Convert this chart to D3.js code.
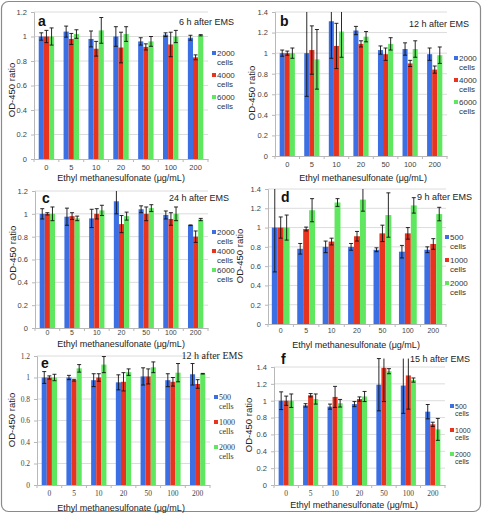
<!DOCTYPE html>
<html><head><meta charset="utf-8">
<script src="https://cdn.jsdelivr.net/npm/d3@7"></script>
<style>body{margin:0;background:#fff}svg{display:block}</style>
</head><body>
<svg id="c" width="483" height="513"></svg>
<script>
const categories = ["0","5","10","20","50","100","200"];
const seriesLabelsA = ["2000","4000","6000"];
const seriesLabelsB = ["500","1000","2000"];
const colors = ["#3b6fe3","#e8331f","#5fe85f"];

// panel a: 6 h after EMS
const a2000 = [1.0, 1.04, 0.98, 1.0, 0.96, 1.015, 0.99];
const a2000Err = [0.03, 0.045, 0.065, 0.08, 0.03, 0.015, 0.02];
const a4000 = [1.0, 0.98, 0.90, 0.91, 0.915, 0.935, 0.83];
const a4000Err = [0.05, 0.045, 0.06, 0.125, 0.025, 0.10, 0.02];
const a6000 = [1.0, 1.02, 1.05, 1.02, 0.96, 1.0, 1.01];
const a6000Err = [0.07, 0.035, 0.105, 0.06, 0.04, 0.05, 0.005];
// panel b: 12 h after EMS
const b2000 = [1.0, 1.0, 1.31, 1.22, 1.03, 1.04, 0.99];
const b2000Err = [0.03, 0.42, 0.36, 0.04, 0.04, 0.06, 0.06];
const b4000 = [1.0, 1.03, 1.07, 1.09, 0.99, 0.90, 0.84];
const b4000Err = [0.02, 0.235, 0.22, 0.03, 0.06, 0.03, 0.035];
const b6000 = [1.0, 0.94, 1.21, 1.16, 1.09, 1.04, 0.98];
const b6000Err = [0.05, 0.29, 0.25, 0.05, 0.06, 0.08, 0.08];
// panel c: 24 h after EMS
const c2000 = [1.0, 0.975, 0.96, 1.11, 1.04, 0.99, 0.90];
const c2000Err = [0.045, 0.075, 0.08, 0.11, 0.03, 0.035, 0.003];
const c4000 = [1.0, 0.98, 1.0, 0.91, 1.0, 0.955, 0.80];
const c4000Err = [0.01, 0.03, 0.045, 0.075, 0.06, 0.055, 0.05];
const c6000 = [1.0, 0.96, 1.03, 0.98, 1.05, 1.0, 0.95];
const c6000Err = [0.06, 0.02, 0.045, 0.035, 0.03, 0.06, 0.01];
// panel d: 9 h after EMS
const d500 = [1.0, 0.78, 0.80, 0.80, 0.77, 0.75, 0.77];
const d500Err = [0.46, 0.055, 0.06, 0.035, 0.02, 0.065, 0.03];
const d1000 = [1.0, 0.985, 0.855, 0.91, 0.94, 0.94, 0.83];
const d1000Err = [0.11, 0.02, 0.035, 0.05, 0.085, 0.06, 0.055];
const d2000 = [1.0, 1.18, 1.26, 1.29, 1.13, 1.23, 1.14];
const d2000Err = [0.13, 0.12, 0.04, 0.12, 0.23, 0.08, 0.07];
// panel e: 12 h after EMS
const e500 = [1.0, 1.0, 0.975, 0.955, 1.01, 0.975, 1.03];
const e500Err = [0.055, 0.02, 0.06, 0.07, 0.08, 0.06, 0.10];
const e1000 = [1.0, 0.975, 1.0, 0.96, 1.01, 0.96, 0.94];
const e1000Err = [0.015, 0.008, 0.035, 0.085, 0.07, 0.04, 0.04];
const e2000 = [1.0, 1.085, 1.12, 1.05, 1.095, 1.045, 1.035];
const e2000Err = [0.03, 0.035, 0.075, 0.03, 0.05, 0.085, 0.003];
// panel f: 15 h after EMS
const f500 = [1.0, 0.945, 0.93, 0.96, 1.19, 1.18, 0.87];
const f500Err = [0.105, 0.02, 0.03, 0.03, 0.31, 0.33, 0.085];
const f1000 = [1.0, 1.065, 1.045, 1.02, 1.39, 1.30, 0.72];
const f1000Err = [0.055, 0.02, 0.125, 0.025, 0.40, 0.40, 0.025];
const f2000 = [1.0, 1.02, 0.97, 1.05, 1.35, 1.245, 0.66];
const f2000Err = [0.08, 0.06, 0.045, 0.06, 0.03, 0.025, 0.13];

const yTicks12 = [0, 0.2, 0.4, 0.6, 0.8, 1, 1.2];
const yTicks14 = [0, 0.2, 0.4, 0.6, 0.8, 1, 1.2, 1.4];
const xTitle = "Ethyl methanesulfonate (μg/mL)";
const yTitle = "OD-450 ratio";

const SANS = "Liberation Sans, Arial, Helvetica, sans-serif";
const SERIF = "Liberation Serif, Times New Roman, serif";

const svg = d3.select("#c");
svg.append("rect").attr("x",1.5).attr("y",1.5).attr("width",479).attr("height",510)
  .attr("rx",7).attr("fill","none").attr("stroke","#8a8a8a").attr("stroke-width",1.2);

function panel(cfg) {
  const g = svg.append("g");
  const y = d3.scaleLinear().domain([0, cfg.ymax]).range([cfg.bottom, cfg.top]);
  const x = d3.scaleBand().domain(categories).range([cfg.left, cfg.right]);
  const xs = d3.scaleBand().domain([0,1,2]).range([0, x.bandwidth()*cfg.groupFrac]);
  const off = x.bandwidth()*(1-cfg.groupFrac)/2;
  const clipTop = y(cfg.clipMax);
  // gridlines
  g.append("g").selectAll("line").data(cfg.ticks.filter(t=>t>0)).join("line")
    .attr("x1",cfg.left).attr("x2",cfg.right).attr("y1",d=>y(d)).attr("y2",d=>y(d))
    .attr("stroke","#dcdcdc").attr("stroke-width",1);
  // y axis
  const yAxis = d3.axisLeft(y).tickValues(cfg.ticks).tickSize(3).tickPadding(4)
    .tickFormat(d=>d3.format("~g")(d));
  const ya = g.append("g").attr("transform",`translate(${cfg.left},0)`).call(yAxis);
  ya.select(".domain").attr("stroke","#b8b8b8");
  ya.selectAll(".tick line").attr("stroke","#b8b8b8");
  ya.selectAll("text").attr("fill","#444").attr("font-size",cfg.tickSize).attr("font-family",cfg.yTickFont);
  // bars
  const series = cfg.series;
  series.forEach((s,si)=>{
    g.append("g").selectAll("rect").data(s.vals).join("rect")
      .attr("x",(d,i)=>x(categories[i])+off+xs(si))
      .attr("width",xs.bandwidth())
      .attr("y",d=>y(d)).attr("height",d=>cfg.bottom-y(d))
      .attr("fill",colors[si]);
  });
  // x axis
  const xAxis = d3.axisBottom(x).tickSize(0).tickPadding(cfg.xPad);
  const xa = g.append("g").attr("transform",`translate(0,${cfg.bottom})`).call(xAxis);
  xa.select(".domain").attr("stroke","#b8b8b8");
  xa.selectAll("text").attr("fill","#444").attr("font-size",cfg.xTickSize || cfg.tickSize).attr("font-family",cfg.xTickFont);
  g.append("g").selectAll("line").data(d3.range(categories.length+1)).join("line")
    .attr("x1",i=>cfg.left+i*x.step()).attr("x2",i=>cfg.left+i*x.step())
    .attr("y1",cfg.bottom).attr("y2",cfg.bottom+3).attr("stroke","#b8b8b8");
  // error bars
  series.forEach((s,si)=>{
    const eg = g.append("g").attr("stroke","#111").attr("stroke-width",0.9);
    s.vals.forEach((v,i)=>{
      const cx = x(categories[i])+off+xs(si)+xs.bandwidth()/2;
      const hi = v + s.err[i], lo = v - s.err[i];
      const yh = Math.max(y(hi), clipTop), yl = y(lo);
      eg.append("line").attr("x1",cx).attr("x2",cx).attr("y1",yh).attr("y2",yl);
      eg.append("line").attr("x1",cx-2).attr("x2",cx+2).attr("y1",yl).attr("y2",yl);
      if (y(hi) >= clipTop) eg.append("line").attr("x1",cx-2).attr("x2",cx+2).attr("y1",yh).attr("y2",yh);
    });
  });
  // letter
  g.append("text").attr("x",cfg.letter[0]).attr("y",cfg.letter[1]).text(cfg.letterText)
    .attr("font-family",SANS).attr("font-weight","bold").attr("font-size",14).attr("fill","#111");
  // title
  g.append("text").attr("x",cfg.title[0]).attr("y",cfg.title[1]).attr("text-anchor","end")
    .text(cfg.titleText).attr("font-family",cfg.titleFont).attr("font-size",cfg.titleSize).attr("fill","#222");
  // legend
  cfg.legendLabels.forEach((lab,i)=>{
    const ly = cfg.legend[1] + i*cfg.legendStep;
    g.append("rect").attr("x",cfg.legend[0]).attr("y",ly-5).attr("width",4).attr("height",4).attr("fill",colors[i]);
    g.append("text").attr("x",cfg.legend[0]+5).attr("y",ly).text(lab)
      .attr("font-family",cfg.legendFont).attr("font-size",cfg.legendSize).attr("fill","#333");
    g.append("text").attr("x",cfg.legend[0]+5).attr("y",ly+cfg.legendLine).text("cells")
      .attr("font-family",cfg.legendFont).attr("font-size",cfg.legendSize).attr("fill","#333");
  });
  // axis titles
  g.append("text").attr("x",cfg.xt[0]).attr("y",cfg.xt[1]).attr("text-anchor","middle").text(xTitle)
    .attr("font-family",SANS).attr("font-size",9).attr("fill","#222");
  g.append("text").attr("transform",`translate(${cfg.yt[0]},${cfg.yt[1]}) rotate(-90)`)
    .attr("text-anchor","middle").attr("dy","0.35em").text(yTitle)
    .attr("font-family",SANS).attr("font-size",9.5).attr("fill","#222");
}

const base = {groupFrac:0.62, tickSize:7.5, xPad:6, yTickFont:SANS, xTickFont:SANS, titleFont:SANS, titleSize:9,
  legendFont:SANS, legendSize:8, legendLine:8.5, legendStep:22};

panel({...base, left:34, right:208, top:12, bottom:159, ymax:1.2, clipMax:1.2, ticks:yTicks12,
  series:[{vals:a2000,err:a2000Err},{vals:a4000,err:a4000Err},{vals:a6000,err:a6000Err}],
  letter:[38,26], letterText:"a", title:[234,25], titleText:"6 h after EMS",
  legend:[212,56], legendLabels:seriesLabelsA, xt:[121,181], yt:[12,90]});

panel({...base, left:275, right:447, top:12, bottom:156, ymax:1.4, clipMax:1.4, ticks:yTicks14,
  series:[{vals:b2000,err:b2000Err},{vals:b4000,err:b4000Err},{vals:b6000,err:b6000Err}],
  letter:[280,26], letterText:"b", title:[469,27], titleText:"12 h after EMS",
  legend:[454,61], legendLabels:seriesLabelsA, xt:[363,181], yt:[252,93]});

panel({...base, left:35, right:208, top:191, bottom:328, ymax:1.2, clipMax:1.2, ticks:yTicks12, xPad:2.5, xTickSize:7,
  series:[{vals:c2000,err:c2000Err},{vals:c4000,err:c4000Err},{vals:c6000,err:c6000Err}],
  letter:[42,203], letterText:"c", title:[229,201], titleText:"24 h after EMS",
  legend:[212,235], legendLabels:seriesLabelsA, xt:[121,347], yt:[13,253], legendStep:19});

panel({...base, left:268, right:446, top:189, bottom:324, ymax:1.4, clipMax:1.4, ticks:yTicks14, xPad:4.5, xTickSize:7, groupFrac:0.7,
  series:[{vals:d500,err:d500Err},{vals:d1000,err:d1000Err},{vals:d2000,err:d2000Err}],
  letter:[281,202], letterText:"d", title:[472,200], titleText:"9 h after EMS",
  legend:[445,240], legendLabels:seriesLabelsB, xt:[356,348], yt:[240,256], legendStep:23});

panel({...base, left:37, right:210, top:356, bottom:485, ymax:1.2, clipMax:1.2, ticks:yTicks12, xPad:6,
  yTickFont:SERIF, xTickFont:SERIF, titleFont:SERIF, titleSize:10, legendFont:SERIF,
  series:[{vals:e500,err:e500Err},{vals:e1000,err:e1000Err},{vals:e2000,err:e2000Err}],
  letter:[41,368], letterText:"e", title:[243,359], titleText:"12 h after EMS",
  legend:[214,400], legendLabels:seriesLabelsB, xt:[121,511], yt:[12,420], legendStep:25});

panel({...base, left:274, right:445, top:367, bottom:485, ymax:1.4, clipMax:1.5, ticks:yTicks14, xPad:6,
  xTickFont:SERIF, legendSize:7, legendLine:7,
  series:[{vals:f500,err:f500Err},{vals:f1000,err:f1000Err},{vals:f2000,err:f2000Err}],
  letter:[281,364], letterText:"f", title:[470,362], titleText:"15 h after EMS",
  legend:[450,409], legendLabels:seriesLabelsB, xt:[354,508], yt:[249,425], legendStep:24});
</script>
</body></html>
